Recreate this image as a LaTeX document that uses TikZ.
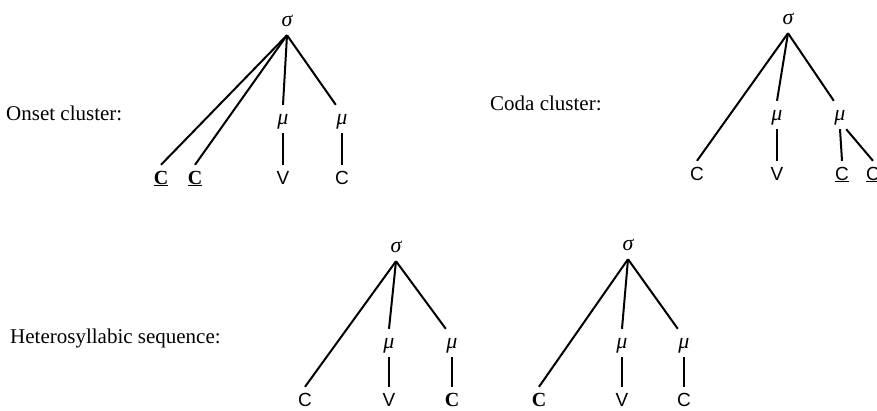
\documentclass[tikz,border=0pt]{standalone}
\usepackage{fontspec}
\setmainfont{Liberation Serif}
\setsansfont{Liberation Sans}
\begin{document}
\begin{tikzpicture}[x=1pt,y=-1pt,
  every node/.style={inner sep=0pt},
  caption/.style={anchor=west, font=\fontsize{21}{25}\selectfont},
  tnode/.style={text height=10pt, text depth=0pt, minimum height=28pt, minimum width=12pt},
  greek/.style={tnode, font=\fontsize{22}{24}\selectfont\itshape},
  seg/.style={tnode, font=\fontsize{19}{21}\selectfont\sffamily},
  segb/.style={tnode, font=\fontsize{20}{22}\selectfont\bfseries},
  branch/.style={line width=2pt}]
\useasboundingbox (0,0) rectangle (877,410);

% ---------- Onset cluster ----------
\node[caption] (onsetlbl) at (6,113) {Onset cluster:};
\node[greek] (os)  at (287,21)  {σ};
\node[greek] (om1) at (283,119) {μ};
\node[greek] (om2) at (342,119) {μ};
\node[segb]  (oc1) at (161,179) {\underline{C}};
\node[segb]  (oc2) at (195,179) {\underline{C}};
\node[seg]   (ov)  at (283,179) {V};
\node[seg]   (oc3) at (342,179) {C};
\draw[branch] (os.south) -- (oc1.north);
\draw[branch] (os.south) -- (oc2.north);
\draw[branch] (os.south) -- (om1.north);
\draw[branch] (os.south) -- (om2.north west);
\draw[branch] (om1.south) -- (ov.north);
\draw[branch] (om2.south) -- (oc3.north);

% ---------- Coda cluster ----------
\node[caption] (codalbl) at (490,103) {Coda cluster:};
\node[greek] (cs)  at (788,19)  {σ};
\node[greek] (cm1) at (777,115) {μ};
\node[greek] (cm2) at (840,115) {μ};
\node[seg]   (cc1) at (697,175) {C};
\node[seg]   (cv)  at (777,175) {V};
\node[seg]   (cc2) at (842,175) {\underline{C}};
\node[seg]   (cc3) at (873,175) {\underline{C}};
\draw[branch] (cs.south) -- (cc1.north);
\draw[branch] (cs.south) -- (cm1.north);
\draw[branch] (cs.south) -- (cm2.north west);
\draw[branch] (cm1.south) -- (cv.north);
\draw[branch] (cm2.south) -- (cc2.north);
\draw[branch] (cm2.south east) -- (cc3.north);

% ---------- Heterosyllabic sequence ----------
\node[caption] (heterolbl) at (10,338) {Heterosyllabic sequence:};
% first syllable
\node[greek] (as)  at (396,247) {σ};
\node[greek] (am1) at (389,343) {μ};
\node[greek] (am2) at (452,343) {μ};
\node[seg]   (ac1) at (305,401) {C};
\node[seg]   (av)  at (389,401) {V};
\node[segb]  (ac2) at (452,401) {C};
\draw[branch] (as.south) -- (ac1.north);
\draw[branch] (as.south) -- (am1.north);
\draw[branch] (as.south) -- (am2.north west);
\draw[branch] (am1.south) -- (av.north);
\draw[branch] (am2.south) -- (ac2.north);
% second syllable
\node[greek] (bs)  at (628,245) {σ};
\node[greek] (bm1) at (622,343) {μ};
\node[greek] (bm2) at (684,343) {μ};
\node[segb]  (bc1) at (539,401) {C};
\node[seg]   (bv)  at (622,401) {V};
\node[seg]   (bc2) at (684,401) {C};
\draw[branch] (bs.south) -- (bc1.north);
\draw[branch] (bs.south) -- (bm1.north);
\draw[branch] (bs.south) -- (bm2.north west);
\draw[branch] (bm1.south) -- (bv.north);
\draw[branch] (bm2.south) -- (bc2.north);
\end{tikzpicture}
\end{document}
